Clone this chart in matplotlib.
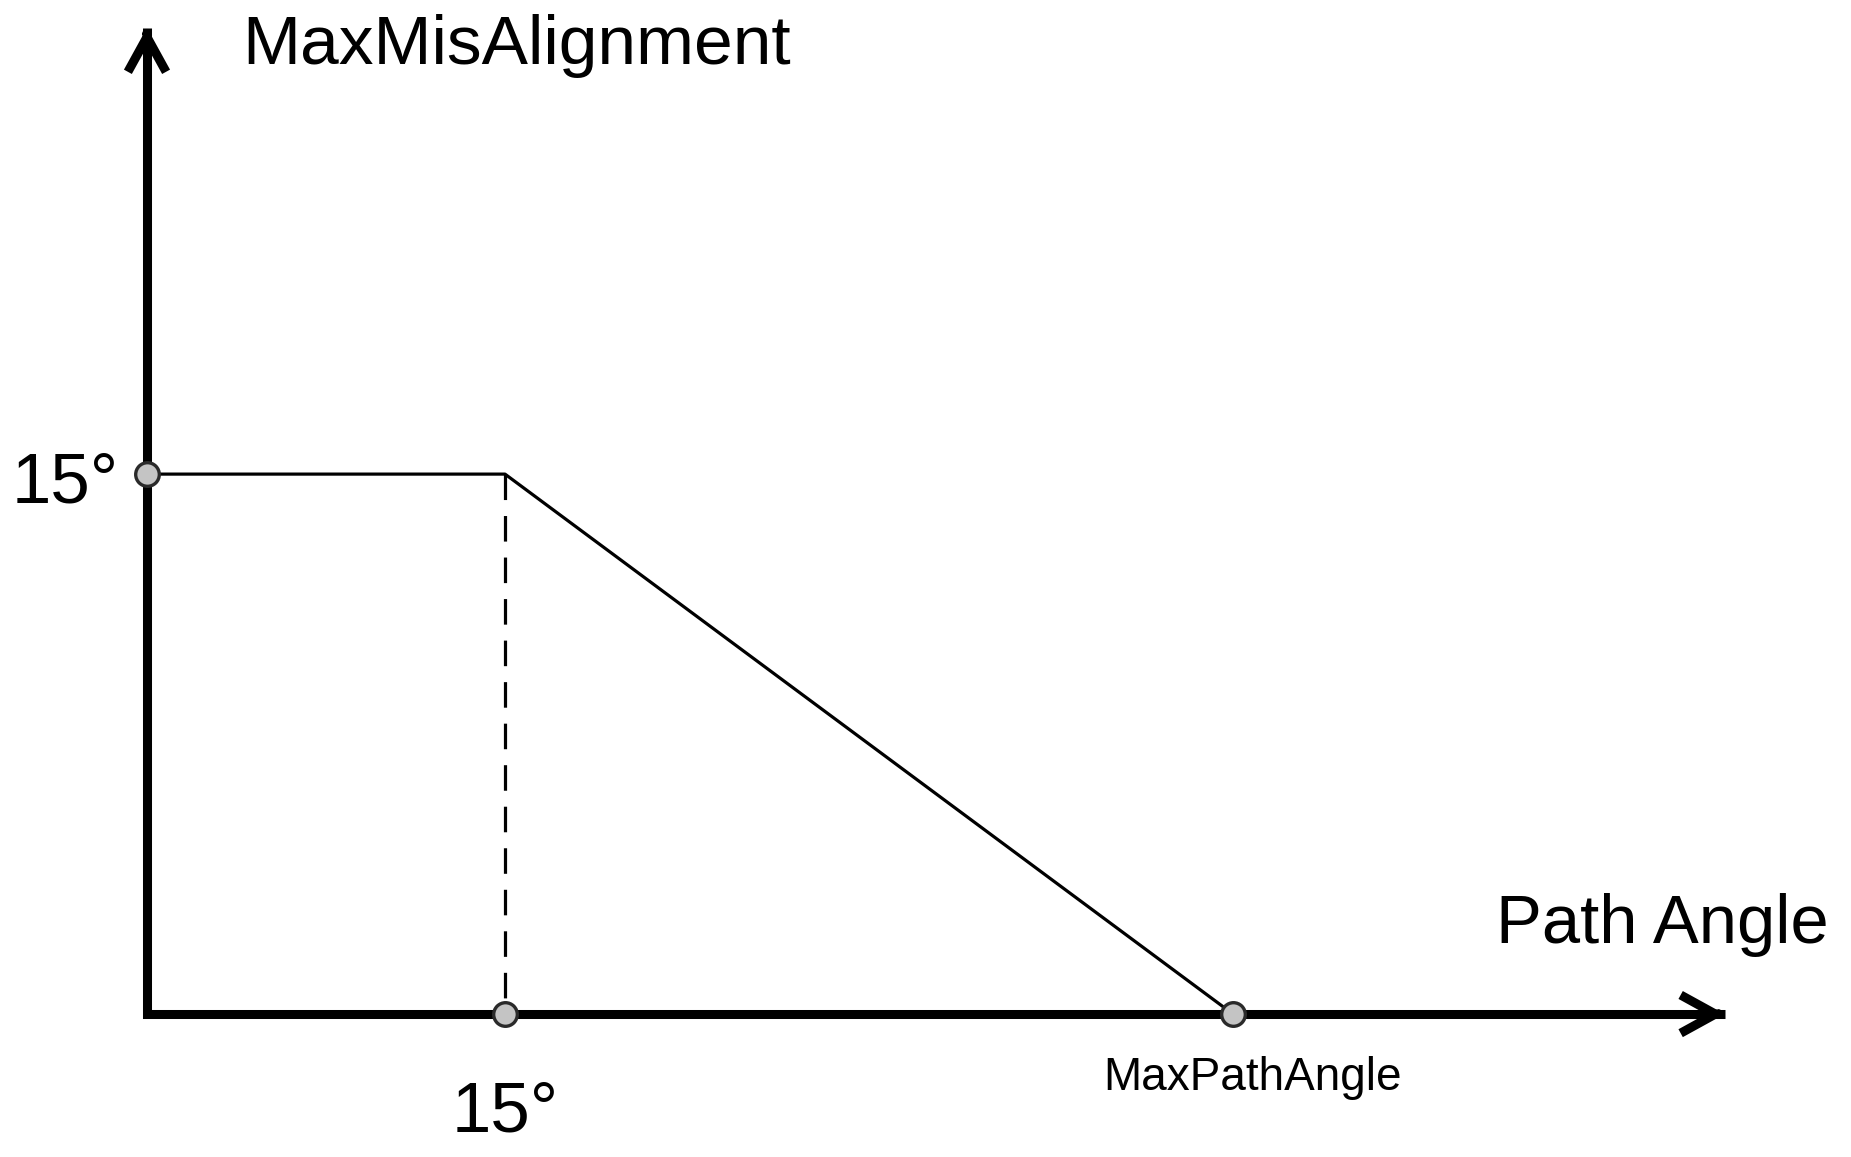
import matplotlib
matplotlib.use("Agg")
import matplotlib.pyplot as plt

plt.rcParams['font.family'] = ['Liberation Sans', 'DejaVu Sans']

# schematic curve: MaxMisAlignment vs Path Angle
path_angle = [0, 15, 45.5]
max_misalign = [15, 15, 0]
max_path_angle = 45.5
knee_angle = 15
misalign_cap = 15

# marked points (grey dots)
dot_x = [0, knee_angle, max_path_angle]
dot_y = [misalign_cap, 0, 0]

x_axis_end = 66.1
y_axis_end = 27.4

fig = plt.figure(figsize=(18.51, 11.57), dpi=100)
ax = fig.add_axes([0, 0, 1, 1])
ax.set_xlim(-6.158, 71.39)
ax.set_ylim(-3.97, 28.17)
ax.axis('off')

# axes as an L with arrow heads
ax.plot([0, 0, x_axis_end], [y_axis_end, 0, 0], color='black', lw=6.5,
        solid_joinstyle='miter', solid_capstyle='butt', zorder=2)
arrow = dict(arrowstyle='->,head_length=1.0,head_width=0.55', color='black',
             lw=6.5, shrinkA=0, shrinkB=0, mutation_scale=25,
             joinstyle='round', capstyle='butt')
ax.annotate('', xy=(x_axis_end, 0), xytext=(x_axis_end - 0.3, 0), arrowprops=arrow)
ax.annotate('', xy=(0, y_axis_end), xytext=(0, y_axis_end - 0.2), arrowprops=arrow)

# curve
ax.plot(path_angle, max_misalign, color='black', lw=2.3, zorder=3)
ax.plot([knee_angle, knee_angle], [misalign_cap, 0], color='black', lw=2.3,
        dashes=(8, 5), zorder=3)

ax.plot(dot_x, dot_y, 'o', ms=17, mfc='#c4c4c4', mec='#2a2a2a', mew=2.4,
        zorder=4, clip_on=False)

# labels
ax.text(3.98, 26.4, 'MaxMisAlignment', fontsize=50, ha='left', va='baseline')
ax.text(56.5, 1.97, 'Path Angle', fontsize=49.5, ha='left', va='baseline')
ax.text(-1.2, 14.2, '15°', fontsize=51, ha='right', va='baseline')
ax.text(knee_angle, -3.25, '15°', fontsize=51, ha='center', va='baseline')
ax.text(46.3, -2.11, 'MaxPathAngle', fontsize=33, ha='center', va='baseline')

fig.savefig('out.png', dpi=100, facecolor='white')
plt.close(fig)
